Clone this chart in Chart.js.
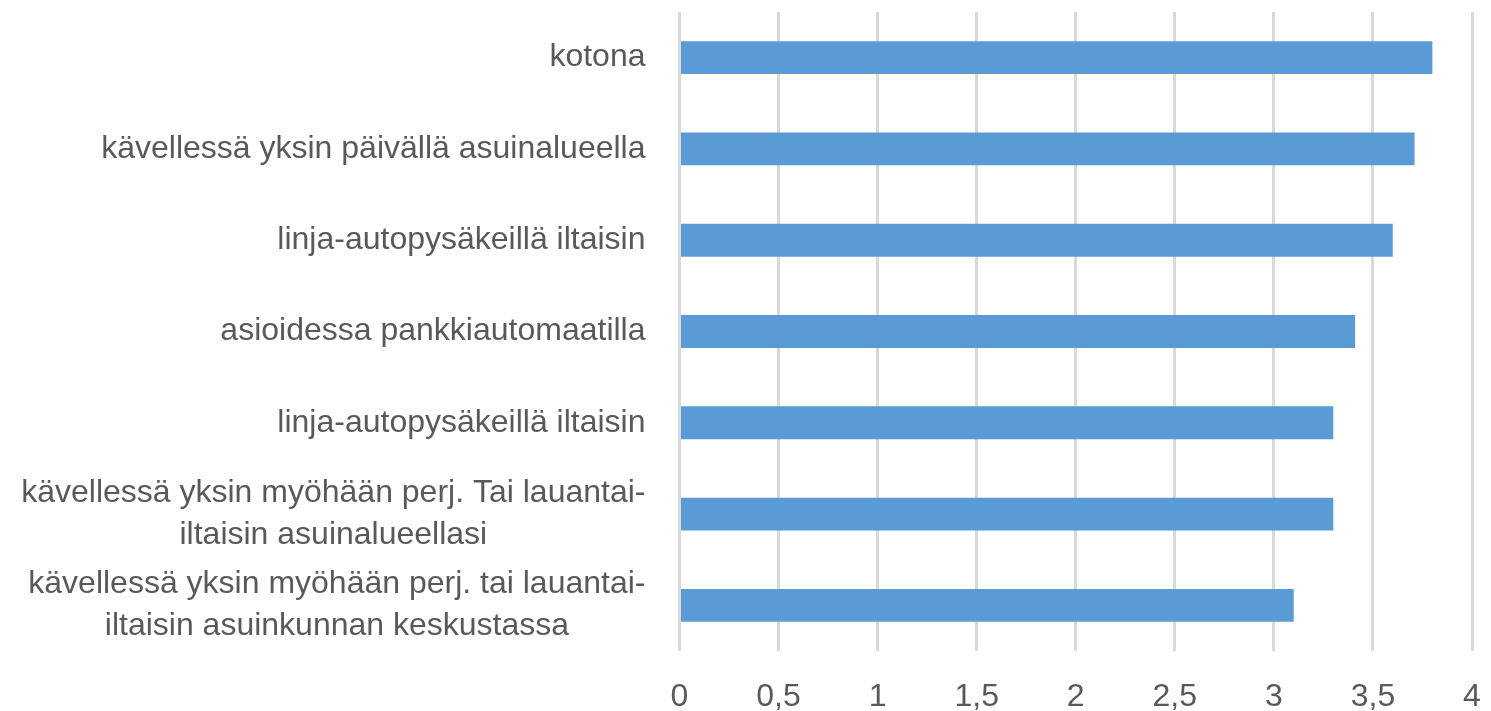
<!DOCTYPE html>
<html>
<head>
<meta charset="utf-8">
<script src="https://cdn.jsdelivr.net/npm/chart.js@4/dist/chart.umd.min.js"></script>
<style>
  html, body { margin: 0; padding: 0; background: #fff; }
  #wrap { width: 1491px; height: 711px; }
</style>
</head>
<body>
<div id="wrap"><canvas id="turvaChart"></canvas></div>
<script>
const categories = [
  ["kotona"],
  ["kävellessä yksin päivällä asuinalueella"],
  ["linja-autopysäkeillä iltaisin"],
  ["asioidessa pankkiautomaatilla"],
  ["linja-autopysäkeillä iltaisin"],
  ["kävellessä yksin myöhään perj. Tai lauantai-", "iltaisin asuinalueellasi"],
  ["kävellessä yksin myöhään perj. tai lauantai-", "iltaisin asuinkunnan keskustassa"]
];
const values = [3.8, 3.71, 3.6, 3.41, 3.3, 3.3, 3.1];
const xTicks = [0, 0.5, 1, 1.5, 2, 2.5, 3, 3.5, 4];

const textColor = "#595959";
const fontFamily = "'Liberation Sans', Arial, sans-serif";
const fontSize = 32;

// Excel style category labels: block right aligned, lines centred inside it
const categoryLabels = {
  id: "categoryLabels",
  afterDraw(chart) {
    const ctx = chart.ctx;
    const y = chart.scales.y;
    const right = chart.chartArea.left - 34;
    const lineH = 42;
    ctx.save();
    ctx.font = fontSize + "px " + fontFamily;
    ctx.fillStyle = textColor;
    ctx.textAlign = "center";
    ctx.textBaseline = "middle";
    categories.forEach((lines, i) => {
      const cy = y.getPixelForTick(i);
      const w = Math.max(...lines.map(l => ctx.measureText(l).width));
      const cx = right - w / 2;
      lines.forEach((line, j) => {
        ctx.fillText(line, cx, cy + (j - (lines.length - 1) / 2) * lineH);
      });
    });
    ctx.restore();
  }
};

new Chart(document.getElementById("turvaChart"), {
  type: 'bar',
  data: {
    labels: categories,
    datasets: [{
      data: values,
      backgroundColor: "#5b9bd5",
      barPercentage: 0.36,
      categoryPercentage: 1
    }]
  },
  options: {
    indexAxis: 'y',
    responsive: true,
    maintainAspectRatio: false,
    animation: false,
    layout: {
      padding: { top: 12, right: 19, bottom: 0, left: 0 }
    },
    plugins: {
      legend: { display: false },
      tooltip: { enabled: false }
    },
    scales: {
      x: {
        min: 0,
        max: 4,
        afterBuildTicks: function(scale) {
          scale.ticks = xTicks.map(v => ({ value: v }));
        },
        afterFit: function(scale) {
          scale.height = 60;
        },
        grid: {
          color: "#d9d9d9",
          lineWidth: 3,
          drawTicks: true,
          tickLength: 24,
          tickColor: "rgba(0,0,0,0)"
        },
        border: { display: false },
        ticks: {
          color: textColor,
          font: { family: fontFamily, size: fontSize },
          padding: 3,
          callback: function(value) {
            return String(value).replace('.', ',');
          }
        }
      },
      y: {
        grid: { display: false },
        border: { display: false },
        ticks: { display: false },
        afterFit: function(scale) {
          scale.width = 679.5;
        }
      }
    }
  },
  plugins: [categoryLabels]
});
</script>
</body>
</html>
